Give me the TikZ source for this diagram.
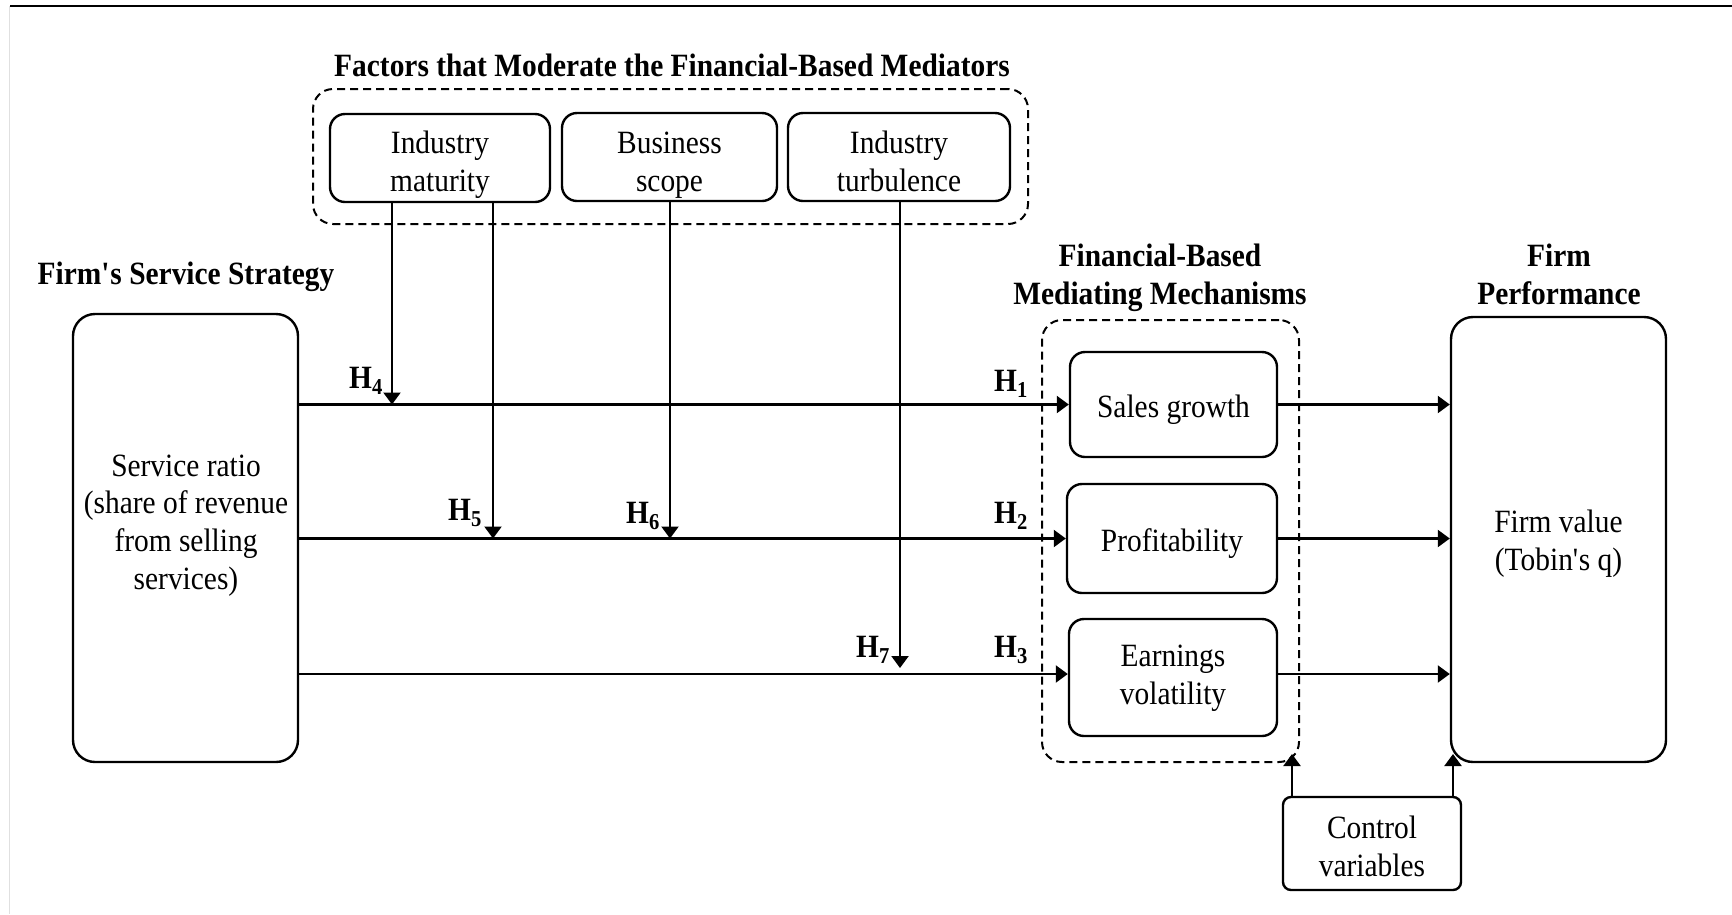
\documentclass[tikz,border=0pt]{standalone}
\usepackage{fontspec}
\setmainfont{Liberation Serif}[FakeStretch=0.905]
\usetikzlibrary{arrows.meta}
\begin{document}
\begin{tikzpicture}[x=1pt,y=-1pt,
  every node/.style={font=\fontsize{32.5}{37.8}\selectfont, align=center},
  rbox/.style={draw, line width=2.4pt, rounded corners=#1, inner sep=0pt},
  rbox/.default=15pt,
  tx/.style 2 args={label={[inner sep=0pt, yshift=#1]center:#2}},
  dbox/.style={draw, line width=2pt, dash pattern=on 8pt off 5pt, rounded corners=20pt, inner sep=0pt},
  arr/.style={line width=2.2pt, -{Triangle[length=12pt,width=17pt]}},
  ttl/.style={font=\fontsize{32.5}{37.8}\selectfont\bfseries, inner sep=0pt},
  hl/.style={font=\fontsize{32.5}{37.8}\selectfont\bfseries, inner sep=0pt}
]
\path[fill=white] (0,0) rectangle (1732,914);
\useasboundingbox (0,0) rectangle (1732,914);
\draw[line width=2.5pt] (10,6) -- (1732,6);
\draw[black!12, line width=1pt] (9.5,6) -- (9.5,914);

% dashed groups
\node[dbox, minimum width=715pt, minimum height=135pt] (modbox) at (670.5,156.5) {};
\node[dbox, minimum width=257pt, minimum height=442pt] (medbox) at (1170.5,541) {};

% titles
\node[ttl] (modtitle) at (672,65) {Factors that Moderate the Financial-Based Mediators};
\node[ttl] (svctitle) at (186,277) {Firm\textquotesingle s Service Strategy};
\node[ttl] (medtitle) at (1160,277.5) {Financial-Based\\Mediating Mechanisms};
\node[ttl] (fptitle) at (1559,274) {Firm\\Performance};

% moderator boxes
\node[rbox, minimum width=220pt, minimum height=88pt, tx={-6.5pt}{Industry\\maturity}] (mat) at (440,158) {};
\node[rbox, minimum width=215pt, minimum height=88pt, tx={-8pt}{Business\\scope}] (bus) at (669.5,157) {};
\node[rbox, minimum width=222pt, minimum height=88pt, tx={-4pt}{Industry\\turbulence}] (tur) at (899,157) {};

% main boxes
\node[rbox=22pt, minimum width=225pt, minimum height=448pt] (svc) at (185.5,538) {};
\node[inner sep=0pt] (svctext) at (186,525.5) {Service ratio\\(share of revenue\\from selling\\services)};

\node[rbox, minimum width=207pt, minimum height=105pt, tx={-5.5pt}{Sales growth}] (sg) at (1173.5,404.5) {};
\node[rbox, minimum width=210pt, minimum height=109pt, tx={-5pt}{Profitability}] (pr) at (1172,538.5) {};
\node[rbox, minimum width=208pt, minimum height=117pt, tx={-0.5pt}{Earnings\\volatility}] (ev) at (1173,677.5) {};

\node[rbox=22pt, minimum width=215pt, minimum height=445pt, tx={-4pt}{Firm value\\(Tobin\textquotesingle s q)}] (fv) at (1558.5,539.5) {};
\node[rbox=8pt, minimum width=178pt, minimum height=93pt, tx={-2.5pt}{Control\\variables}] (cv) at (1372,843.5) {};

% main paths
\coordinate (l3) at (0,674);
\draw[arr] (svc.east |- sg.west) -- (sg.west);
\draw[arr] (svc.east |- pr.west) -- (pr.west);
\draw[arr] (svc.east |- l3) -- (ev.west |- l3);
\draw[arr] (sg.east) -- (fv.west |- sg.east);
\draw[arr] (pr.east) -- (fv.west |- pr.east);
\draw[arr] (ev.east |- l3) -- (fv.west |- l3);

% moderator arrows
\coordinate (t4) at (392,404.5);
\coordinate (t5) at (493,538.5);
\coordinate (t6) at (670,538.5);
\coordinate (t7) at (900,668);
\draw[arr] (mat.south -| t4) -- (t4);
\draw[arr] (mat.south -| t5) -- (t5);
\draw[arr] (bus.south -| t6) -- (t6);
\draw[arr] (tur.south -| t7) -- (t7);

% control arrows
\coordinate (c1) at (1292,754);
\coordinate (c2) at (1453,754);
\draw[arr] (cv.north -| c1) -- (c1);
\draw[arr] (cv.north -| c2) -- (c2);

% hypothesis labels
\node[hl] (lh4) at (366,381) {H\textsubscript{4}};
\node[hl] (lh5) at (465,513) {H\textsubscript{5}};
\node[hl] (lh6) at (643,516) {H\textsubscript{6}};
\node[hl] (lh7) at (873,650) {H\textsubscript{7}};
\node[hl] (lh1) at (1011,384) {H\textsubscript{1}};
\node[hl] (lh2) at (1011,516) {H\textsubscript{2}};
\node[hl] (lh3) at (1011,650) {H\textsubscript{3}};
\end{tikzpicture}
\end{document}
